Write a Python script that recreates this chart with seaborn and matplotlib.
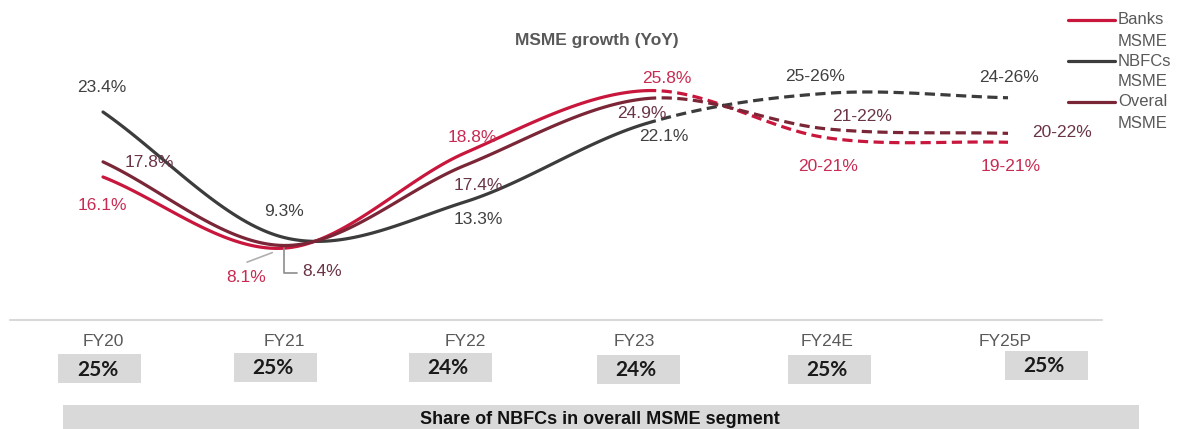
import numpy as np
import pandas as pd
import matplotlib
matplotlib.use("Agg")
import matplotlib.pyplot as plt
import seaborn as sns
from matplotlib.lines import Line2D
from matplotlib.patches import Rectangle

# ---- data -------------------------------------------------------------
years = ["FY20", "FY21", "FY22", "FY23", "FY24E", "FY25P"]
banks = [16.1, 8.1, 18.8, 25.8, 20.5, 20.0]
nbfcs = [23.4, 9.3, 13.3, 22.1, 25.5, 25.0]
overall = [17.8, 8.4, 17.4, 24.9, 21.5, 21.0]
banks_labels = ["16.1%", "8.1%", "18.8%", "25.8%", "20-21%", "19-21%"]
nbfcs_labels = ["23.4%", "9.3%", "13.3%", "22.1%", "25-26%", "24-26%"]
overall_labels = ["17.8%", "8.4%", "17.4%", "24.9%", "21-22%", "20-22%"]
nbfc_share = ["25%", "25%", "24%", "24%", "25%", "25%"]
n_actual = 4  # FY20..FY23 reported, later years are estimates

# ---- canvas -----------------------------------------------------------
W, H, DPI = 1180, 429, 100
sns.set_theme(style="white")
plt.rcParams["font.family"] = ["Liberation Sans", "DejaVu Sans"]

fig = plt.figure(figsize=(W / DPI, H / DPI), dpi=DPI)
ax = fig.add_axes([0, 0, 1, 1])
ax.set_axis_off()

# map categories / values onto the canvas
X0_PX, DX_PX = 103, 181          # first category position and spacing
Y_REF, Y_REF_PX, PX_PER_PT = 23.4, 112, 8.9
ax.set_xlim(-X0_PX / DX_PX, (W - X0_PX) / DX_PX)
ax.set_ylim(Y_REF - (H - Y_REF_PX) / PX_PER_PT, Y_REF + Y_REF_PX / PX_PER_PT)


def fx(px):
    return px / W


def fy(py):
    return 1 - py / H


def smooth(values, n=40):
    """Cardinal (Catmull-Rom) spline through the yearly points."""
    y = np.asarray(values, float)
    m = np.empty_like(y)
    m[1:-1] = (y[2:] - y[:-2]) / 2
    m[0] = y[1] - y[0]
    m[-1] = y[-1] - y[-2]
    xs, ys = [], []
    for i in range(len(y) - 1):
        t = np.linspace(0, 1, n)
        h00 = 2 * t**3 - 3 * t**2 + 1
        h10 = t**3 - 2 * t**2 + t
        h01 = -2 * t**3 + 3 * t**2
        h11 = t**3 - t**2
        xs.append(i + t)
        ys.append(h00 * y[i] + h10 * m[i] + h01 * y[i + 1] + h11 * m[i + 1])
    return np.concatenate(xs), np.concatenate(ys)


series = [
    ("Banks\nMSME", banks, "#C8163C", "#C82A52", banks_labels,
     [(-1, 29), (-38, 29), (7, -15), (21, -12), (1, 29), (3, 24)]),
    ("NBFCs\nMSME", nbfcs, "#3C3C3C", "#404040", nbfcs_labels,
     [(-1, -25), (0, -26), (13, 18), (18, 13), (-12, -17), (1, -20)]),
    ("Overal\nMSME", overall, "#7A2637", "#6A3444", overall_labels,
     [(46, 1), (38, 26), (13, 20), (-4, 15), (35, -12), (54, -1)]),
]

LW = 2.3
split = (n_actual - 1)
for name, vals, lc, tc, labels, offs in series:
    xs, ys = smooth(vals)
    solid = xs <= split + 1e-9
    dashed = xs >= split - 1e-9
    df_s = pd.DataFrame({"x": xs[solid], "y": ys[solid]})
    df_d = pd.DataFrame({"x": xs[dashed], "y": ys[dashed]})
    sns.lineplot(data=df_s, x="x", y="y", ax=ax, color=lc, lw=LW,
                 sort=False, estimator=None, legend=False)
    sns.lineplot(data=df_d, x="x", y="y", ax=ax, color=lc, lw=LW,
                 sort=False, estimator=None, legend=False)
    ax.lines[-1].set_dashes((3.2, 1.7))
    for i, (lab, (dx, dy)) in enumerate(zip(labels, offs)):
        ax.annotate(lab, xy=(i, vals[i]), xytext=(dx, -dy),
                    textcoords="offset pixels", ha="center", va="center",
                    fontsize=12.5, color=tc)

# leader lines for the two crowded FY21 labels
ax.annotate("", xy=(1, banks[1]), xytext=(-37, -14), textcoords="offset pixels",
            arrowprops=dict(arrowstyle="-", color="#B0B0B0", lw=1.2,
                            shrinkA=0, shrinkB=9))
ax.annotate("", xy=(1, overall[1] - 0.25), xytext=(13, -25),
            textcoords="offset pixels",
            arrowprops=dict(arrowstyle="-", color="#8C8C8C", lw=1.2,
                            shrinkA=0, shrinkB=0,
                            connectionstyle="angle,angleA=0,angleB=90,rad=0"))

# title
ax.text(fx(597), fy(40), "MSME growth (YoY)", transform=ax.transAxes,
        ha="center", va="center", fontsize=12.5, fontweight="bold",
        color="#595959")

# legend (line beside the first line of each two-line entry)
for k, (name, vals, lc, tc, labels, offs) in enumerate(series):
    y0 = 20 + 41 * k
    ax.add_line(Line2D([fx(1068), fx(1115)], [fy(y0), fy(y0)],
                       transform=ax.transAxes, color=lc, lw=LW))
    first, second = name.split("\n")
    ax.text(fx(1118), fy(y0), first, transform=ax.transAxes, ha="left",
            va="center", fontsize=12, color="#595959")
    ax.text(fx(1118), fy(y0 + 21), second, transform=ax.transAxes, ha="left",
            va="center", fontsize=12, color="#595959")

# separator between chart and share table
ax.add_line(Line2D([fx(10), fx(1102)], [fy(320), fy(320)],
                   transform=ax.transAxes, color="#D9D9D9", lw=1.5))

# NBFC share table
tick_shift = [0, 0, 0, -12, 0, -3]
box_shift = [-3.5, -9, -15, -8, 2, 38]
box_top = [354, 353, 353, 355, 355, 351]
BOX_W, BOX_H = 83, 29
for i, (yr, share) in enumerate(zip(years, nbfc_share)):
    cx = X0_PX + DX_PX * i
    ax.text(fx(cx + tick_shift[i]), fy(342), yr, transform=ax.transAxes,
            ha="center", va="center", fontsize=12.5, color="#595959")
    bx = cx + box_shift[i]
    ax.add_patch(Rectangle((fx(bx - BOX_W / 2), fy(box_top[i] + BOX_H)),
                           BOX_W / W, BOX_H / H, transform=ax.transAxes,
                           facecolor="#D9D9D9", edgecolor="none"))
    ax.text(fx(bx - 2), fy(box_top[i] + BOX_H / 2 + 1), share,
            transform=ax.transAxes, ha="center", va="center",
            fontsize=15, fontweight="bold", color="#1A1A1A",
            family=["Lato", "DejaVu Sans"])

ax.add_patch(Rectangle((fx(63), fy(440)), (1139 - 63) / W, (440 - 405) / H,
                       transform=ax.transAxes, facecolor="#D9D9D9",
                       edgecolor="none", clip_on=False))
ax.text(fx(600), fy(419), "Share of NBFCs in overall MSME segment",
        transform=ax.transAxes, ha="center", va="center", fontsize=13,
        fontweight="bold", color="#111111")

fig.savefig("out.png", dpi=DPI, facecolor="white")
